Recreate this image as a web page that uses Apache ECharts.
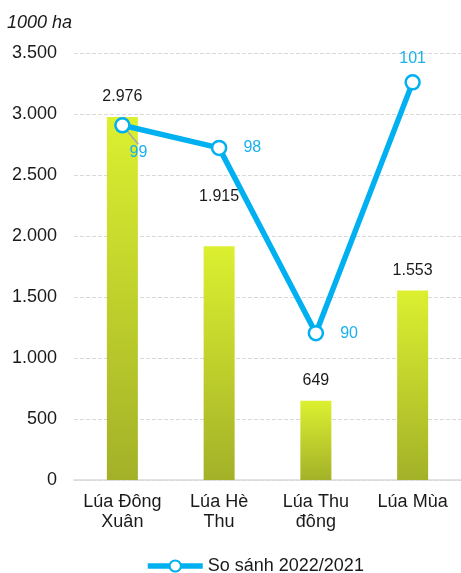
<!DOCTYPE html>
<html>
<head>
<meta charset="utf-8">
<script src="https://cdn.jsdelivr.net/npm/echarts@6/dist/echarts.min.js"></script>
<style>html,body{margin:0;padding:0;background:#fff;}#c{width:461px;height:573px;}</style>
</head>
<body>
<div id="c"></div>
<script>
var categories = ['Lúa Đông\nXuân', 'Lúa Hè\nThu', 'Lúa Thu\nđông', 'Lúa Mùa'];
var areaValues = [2976, 1915, 649, 1553];
var ratioValues = [99.1, 98.1, 89.9, 101.0];
var yTicks = [0, 500, 1000, 1500, 2000, 2500, 3000, 3500];
var unitLabel = '1000 ha';
var lineName = 'So sánh 2022/2021';

var FONT = '"Liberation Sans", Arial, sans-serif';
function fmt(v) { return String(Math.round(v)).replace(/\B(?=(\d{3})+(?!\d))/g, '.'); }

var barData = areaValues.map(function (v, i) {
  return { value: v, label: { distance: i === 1 ? 42 : 12 } };
});
var lineLabelCfg = [
  { position: 'inside' },
  { position: 'right', distance: 16 },
  { position: 'right', distance: 16 },
  { position: 'top', distance: 8 }
];
var lineData = ratioValues.map(function (v, i) {
  var d = { value: v, label: lineLabelCfg[i] };
  d.labelLine = { show: i === 0, lineStyle: { color: '#a6a6a6', width: 1.5 } };
  return d;
});

var chart = echarts.init(document.getElementById('c'), null, { renderer: 'canvas' });
chart.setOption({
  animation: false,
  backgroundColor: '#ffffff',
  textStyle: { fontFamily: FONT },
  title: {
    text: unitLabel, left: 2, top: 9,
    textStyle: { fontFamily: FONT, fontSize: 18, fontStyle: 'italic', fontWeight: 'normal', color: '#1a1a1a' }
  },
  legend: {
    data: [lineName], left: 140, top: 552,
    itemWidth: 55, itemHeight: 14,
    lineStyle: { width: 5.5, color: '#00b0f0' },
    textStyle: { fontFamily: FONT, fontSize: 18, color: '#1a1a1a' }
  },
  grid: { left: 74, right: -2, top: 53, bottom: 93, containLabel: false },
  xAxis: {
    type: 'category', data: categories,
    axisLine: { lineStyle: { color: '#d9d9d9', width: 1.5 } },
    axisTick: { show: false },
    axisLabel: { fontFamily: FONT, fontSize: 18, color: '#1a1a1a', lineHeight: 20, margin: 12, interval: 0 }
  },
  yAxis: [{
    type: 'value', min: 0, max: 3500, interval: 500,
    axisLine: { show: false }, axisTick: { show: false },
    axisLabel: { fontFamily: FONT, fontSize: 18, color: '#1a1a1a', margin: 17, formatter: function (v) { return fmt(v); } },
    splitLine: { lineStyle: { color: '#d9d9d9', type: 'dashed', width: 1 } }
  }, {
    type: 'value', min: 83.4, max: 102.3, show: false, splitLine: { show: false }
  }],
  series: [{
    type: 'bar', name: 'Diện tích', data: barData, barWidth: 31, yAxisIndex: 0,
    itemStyle: {
      color: new echarts.graphic.LinearGradient(0, 0, 0, 1, [
        { offset: 0, color: '#dcf030' },
        { offset: 1, color: '#a3b128' }
      ])
    },
    label: {
      show: true, position: 'top', fontFamily: FONT, fontSize: 16, color: '#1a1a1a',
      formatter: function (p) { return fmt(p.value); }
    }
  }, {
    type: 'line', name: lineName, data: lineData, yAxisIndex: 1,
    symbol: 'circle', symbolSize: 14, z: 5,
    lineStyle: { color: '#00b0f0', width: 5.5 },
    itemStyle: { color: '#ffffff', borderColor: '#00b0f0', borderWidth: 2.5 },
    label: {
      show: true, fontFamily: FONT, fontSize: 16, color: '#1ab0ee',
      formatter: function (p) { return String(Math.round(p.value)); }
    },
    labelLine: { show: false },
    labelLayout: function (p) {
      if (p.dataIndex === 0) return { dx: 16, dy: 27 };
      return {};
    }
  }]
});
</script>
</body>
</html>
